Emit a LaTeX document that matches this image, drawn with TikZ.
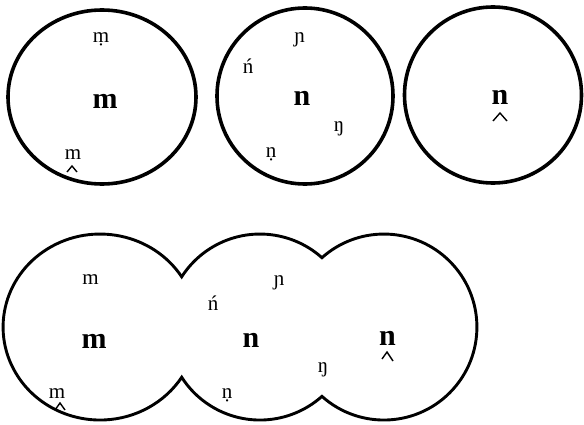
\documentclass[tikz,border=0pt]{standalone}
\usepackage{fontspec}
\setmainfont{Liberation Serif}
\begin{document}
\begin{tikzpicture}[x=1pt,y=1pt,
  big/.style={font=\fontsize{30}{30}\selectfont\bfseries, anchor=base, inner sep=0pt},
  small/.style={font=\fontsize{21}{21}\selectfont, anchor=base, inner sep=0pt},
  ring/.style={line width=3.6pt},
  blob/.style={line width=2.9pt},
  caret/.style={line width=1.4pt, line join=miter}]
\useasboundingbox (0,0) rectangle (584,424);
% top circles
\draw[ring] (102,327) ellipse [x radius=94, y radius=87];
\draw[ring] (305,328) ellipse [x radius=88, y radius=88];
\draw[ring] (493,329) ellipse [x radius=88.5, y radius=88];
% circle 1
\node[small] (m1) at (101,381) {ṃ};
\node[big] (M1) at (105,316) {m};
\node[small] (m2) at (73,265) {m};
\draw[caret] (67,252) -- (72,258) -- (77,252);
% circle 2
\node[small] (n1) at (299.5,381) {ɲ};
\node[small] (n2) at (248,350) {ń};
\node[big] (N1) at (302,318) {n};
\node[small] (n3) at (339,292) {ŋ};
\node[small] (n4) at (271,266) {ṇ};
% circle 3
\node[big] (N2) at (500,319) {n};
\draw[caret] (493,303) -- (500,311) -- (507,303);
% bottom shape
\coordinate (At) at (181.7,147.2);
\draw[blob] (At) arc[start angle=32.7, end angle=327.3, x radius=97, y radius=93]
  arc[start angle=212.7, end angle=311.8, radius=93]
  arc[start angle=228.2, end angle=491.8, radius=93]
  arc[start angle=48.2, end angle=147.3, radius=93] -- cycle;
\node[small] (b1) at (90.5,140) {m};
\node[big] (B1) at (94,76) {m};
\node[small] (b2) at (57,26) {m};
\draw[caret] (55,14) -- (60,21) -- (65,14);
\node[small] (b3) at (213,114) {ń};
\node[small] (b4) at (279,139) {ɲ};
\node[big] (B2) at (251,77) {n};
\node[small] (b5) at (227,26) {ṇ};
\node[small] (b6) at (323,52) {ŋ};
\node[big] (B3) at (387.5,79) {n};
\draw[caret] (382,65) -- (387,72) -- (393,63);
\end{tikzpicture}
\end{document}
